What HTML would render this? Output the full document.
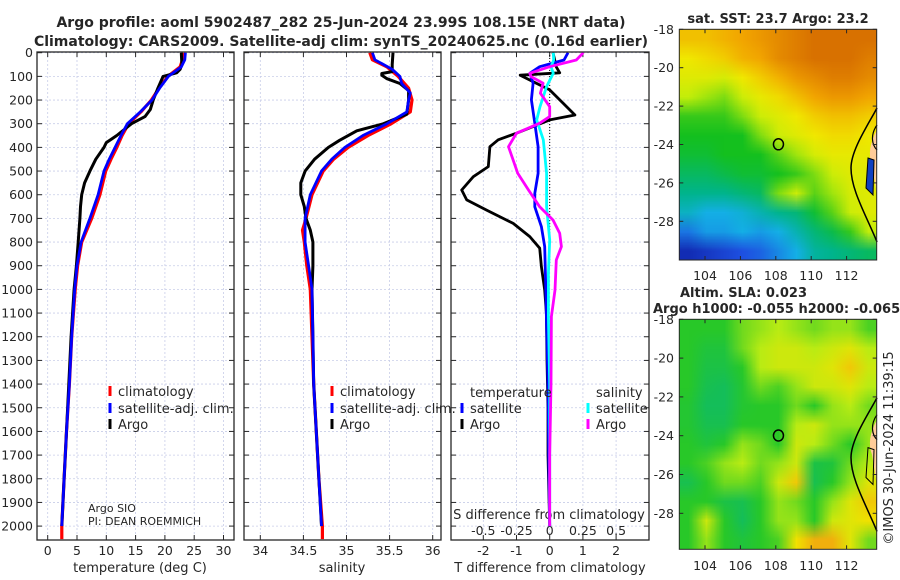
<!DOCTYPE html>
<html><head><meta charset="utf-8">
<style>
html,body{margin:0;padding:0;background:#fff;}
body{width:900px;height:580px;overflow:hidden;font-family:"DejaVu Sans","Liberation Sans",sans-serif;}
svg text{font-family:"DejaVu Sans","Liberation Sans",sans-serif;fill:#262626;}
canvas{position:absolute;image-rendering:auto;}
</style></head>
<body>
<div style="position:relative;width:900px;height:580px;">
<canvas id="sstmap" width="11" height="12" style="left:679px;top:29px;width:198px;height:231px;"></canvas>
<canvas id="slamap" width="11" height="12" style="left:679px;top:319px;width:198px;height:230px;"></canvas>
<svg id="fig" width="900" height="580" style="position:absolute;left:0;top:0;" xmlns="http://www.w3.org/2000/svg"></svg>
</div>
<script>
// ---------- Data ----------
const depthTicks=[0,100,200,300,400,500,600,700,800,900,1000,1100,1200,1300,1400,1500,1600,1700,1800,1900,2000];
const tempTicks=[0,5,10,15,20,25,30];
const salTicks=[34,34.5,35,35.5,36];
const tdiffTicks=[-2,-1,0,1,2];
const sdiffTicks=[-0.5,-0.25,0,0.25,0.5];
const sdiffLabels=["-0.5","-0.25","0","0.25","0.5"];

const climTDepth=[0,30,60,100,150,200,250,300,350,400,450,500,600,700,800,900,1000,1200,1400,1600,1800,2000,2055];
const climTVal=[23.1,23.0,22.6,20.5,19.0,17.7,15.9,13.8,12.7,11.8,10.8,9.9,8.9,7.5,5.8,5.1,4.7,4.1,3.7,3.2,2.8,2.4,2.4];
const satTDepth=[0,30,60,100,150,200,250,300,350,400,450,500,600,700,800,900,1000,1200,1400,1600,1800,2000];
const satTVal=[23.5,23.4,22.8,20.6,19.1,17.8,15.8,13.6,12.5,11.5,10.5,9.6,8.6,7.2,5.7,5.0,4.6,4.1,3.7,3.2,2.8,2.4];
const argoTDepth=[0,50,70,85,100,150,200,240,270,300,350,380,400,450,500,550,600,650,700,800,900,1000,1200,1400,1600,1800,2000];
const argoTVal=[22.8,22.9,22.6,22.0,19.7,18.8,18.0,17.5,16.6,14.3,11.8,10.0,9.6,8.2,7.2,6.3,5.8,5.6,5.5,5.2,4.9,4.5,4.0,3.6,3.2,2.8,2.4];

const climSDepth=[0,30,60,100,150,200,250,300,350,400,450,500,600,700,750,800,900,1000,1200,1400,1600,1800,2000,2055];
const climSVal=[35.27,35.30,35.47,35.60,35.72,35.76,35.74,35.52,35.25,35.02,34.85,34.73,34.60,34.53,34.49,34.51,34.54,34.58,34.60,34.62,34.65,34.68,34.72,34.72];
const satSDepth=[0,30,70,100,130,170,200,250,300,350,400,450,500,600,700,800,900,1000,1200,1400,1600,1800,2000];
const satSVal=[35.30,35.33,35.53,35.62,35.64,35.74,35.72,35.70,35.47,35.19,34.98,34.83,34.71,34.58,34.52,34.52,34.56,34.60,34.61,34.62,34.65,34.68,34.71];
const argoSDepth=[0,50,80,88,95,110,130,160,200,260,300,330,370,400,450,500,550,600,650,700,750,800,900,1000,1200,1400,1600,1800,2000];
const argoSVal=[35.54,35.53,35.53,35.41,35.41,35.47,35.62,35.72,35.72,35.70,35.43,35.12,34.92,34.79,34.63,34.52,34.47,34.47,34.51,34.53,34.58,34.61,34.61,34.60,34.61,34.62,34.65,34.68,34.71];

const argoTdDepth=[0,60,85,95,113,157,214,263,284,340,368,397,481,524,580,622,665,721,777,826,904,1003,1101,1300,1500,1700,2000];
const argoTdVal=[0.1,0.2,0.3,-0.89,-0.64,0,0.41,0.76,0,-1.0,-1.55,-1.8,-1.85,-2.3,-2.65,-2.5,-1.9,-1.1,-0.6,-0.3,-0.25,-0.15,-0.1,-0.08,-0.05,-0.05,0];
const satTdDepth=[0,31,59,87,129,199,298,397,510,594,651,735,819,932,1115,1400,1700,2000];
const satTdVal=[0.55,0.43,-0.3,-0.6,-0.5,-0.55,-0.45,-0.35,-0.35,-0.45,-0.45,-0.25,-0.15,-0.13,-0.1,-0.05,-0.03,0];
const satSdDepth=[0,31,59,87,143,228,284,368,510,651,791,932,1115,1400,1700,2000];
const satSdVal=[0.027,0.03,0.01,0.027,-0.023,-0.073,-0.098,-0.048,-0.023,-0.023,0,-0.01,-0.01,0,0,0];
const argoSdDepth=[0,31,59,87,101,129,171,228,270,298,340,397,510,580,651,707,763,819,876,1003,1115,1400,1700,2000];
const argoSdVal=[0.253,0.2,0,-0.15,-0.14,-0.05,-0.07,0,0,-0.075,-0.25,-0.31,-0.24,-0.16,-0.075,0.025,0.075,0.088,0.05,0.04,0.013,0.01,0,0];

const mapLonTicks=[104,106,108,110,112];
const mapLatTicks=[-18,-20,-22,-24,-26,-28];
const sstGrid=[
[24.3,24.3,24.4,24.5,24.6,24.7,24.8,24.9,24.9,24.9,24.9],
[24.0,24.1,24.2,24.4,24.5,24.7,24.8,24.9,24.9,24.9,24.8],
[23.8,23.8,23.7,24.0,24.2,24.4,24.6,24.7,24.8,24.8,24.7],
[23.5,23.4,23.3,23.6,23.9,24.1,24.3,24.5,24.6,24.6,24.5],
[23.1,23.1,23.1,23.3,23.6,23.8,24.0,24.2,24.3,24.3,24.2],
[23.0,23.0,23.0,23.0,23.3,23.6,23.8,24.0,24.1,24.1,24.0],
[22.9,22.9,23.0,23.0,23.0,23.2,23.4,23.7,23.9,23.9,23.9],
[22.7,22.7,22.8,22.9,22.9,23.0,23.1,23.3,23.6,23.8,23.8],
[22.5,22.5,22.5,22.6,22.7,23.3,23.6,23.2,23.4,23.7,23.8],
[22.2,22.0,22.0,22.1,22.3,22.5,22.6,22.9,23.2,23.6,23.8],
[21.7,21.9,21.9,22.0,21.9,22.0,22.3,22.6,22.8,23.1,23.5],
[21.2,21.3,21.4,21.5,21.6,21.8,22.0,22.4,22.5,22.6,22.7]];
const slaGrid=[
[0,0,0,0.2,0.3,0.4,0.3,0.2,0.3,0.3,0.1],
[0,-0.2,-0.2,0.2,0.4,0.5,0.5,0.4,0.5,0.6,0.4],
[0,-0.3,-0.3,0,0.4,0.5,0.5,0.5,0.6,0.8,0.5],
[0,-0.4,-0.5,-0.1,0.2,0.1,0.3,0.5,0.5,0.6,0.4],
[-0.1,-0.5,-0.5,-0.1,0,0,0.2,0,0.3,0.4,0.2],
[-0.1,-0.4,-0.4,0,0,0,0.4,0.5,0.3,0.3,0.3],
[0,-0.2,0,0.3,0.2,0,0.5,0.4,0.2,0,0.3],
[0,0.1,0.3,0.4,0.2,0.3,0.5,-0.3,-0.2,0.2,0.4],
[-0.4,0,0.2,0.2,0.1,0.5,0.8,-0.4,0,0.3,0.6],
[0,0,-0.3,-0.4,0,0.3,0.2,0,0.3,0.6,0.8],
[0,0.5,0,-0.5,0,0.3,0.3,0,0.5,0.6,0.7],
[0,0.3,0,-0.2,0,0.1,0.7,0.9,0.9,0.6,0.2]];
const floatLon=108.15, floatLat=-23.99;

// ---------- Axes ----------
const NS="http://www.w3.org/2000/svg";
const svg=document.getElementById('fig');
function mk(tag,attrs,parent){const e=document.createElementNS(NS,tag);for(const k in attrs)e.setAttribute(k,attrs[k]);(parent||svg).appendChild(e);return e;}
function txt(s,x,y,attrs,parent){const e=mk('text',Object.assign({x:x,y:y},attrs||{}),parent);e.textContent=s;return e;}
const yD=d=>52.7+0.2367*d;
const xT=t=>47.7+5.86*t;
const xS=s=>260.3+86.2*(s-34);
const xTd=t=>549.7+33.2*t;
const xSd=s=>549.7+132.8*s;
const TOP=52, BOT=540;
const panels=[{x0:37,x1:234},{x0:244,x1:441},{x0:451,x1:649}];

let t1=txt('Argo profile: aoml 5902487_282 25-Jun-2024 23.99S 108.15E (NRT data)',341,27,{'font-size':'14','font-weight':'bold','text-anchor':'middle','fill':'#000'});


let t2=txt('Climatology: CARS2009. Satellite-adj clim: synTS_20240625.nc (0.16d earlier)',341,46,{'font-size':'14','font-weight':'bold','text-anchor':'middle','fill':'#000'});



panels.forEach((p,i)=>{
  const g=mk('g',{});
  
  
  depthTicks.forEach(d=>{
    mk('line',{x1:p.x0,x2:p.x1,y1:yD(d),y2:yD(d),stroke:'#c8cde8','stroke-width':'0.8','stroke-dasharray':'2,2'},g);
    mk('line',{x1:p.x0,x2:p.x0+5,y1:yD(d),y2:yD(d),stroke:'#262626','stroke-width':'1'},g);
    mk('line',{x1:p.x1,x2:p.x1-5,y1:yD(d),y2:yD(d),stroke:'#262626','stroke-width':'1'},g);
  });
});
depthTicks.forEach(d=>{const e=txt(String(d),33,yD(d)+4.5,{'font-size':'12.5','text-anchor':'end'});
  
  });

function vgrid(xs,fn){xs.forEach(v=>{const x=fn(v);
  mk('line',{x1:x,x2:x,y1:TOP,y2:BOT,stroke:'#c8cde8','stroke-width':'0.8','stroke-dasharray':'2,2'});
  mk('line',{x1:x,x2:x,y1:BOT,y2:BOT-5,stroke:'#262626'});mk('line',{x1:x,x2:x,y1:TOP,y2:TOP+5,stroke:'#262626'});});}
vgrid(tempTicks,xT);vgrid(salTicks,xS);vgrid(tdiffTicks,xTd);
tempTicks.forEach(v=>{const e=txt(String(v),xT(v),555,{'font-size':'12.5','text-anchor':'middle'});
  
  });
salTicks.forEach(v=>{const e=txt(String(v),xS(v),555,{'font-size':'12.5','text-anchor':'middle'});
  
  });
tdiffTicks.forEach(v=>{const e=txt(String(v),xTd(v),555,{'font-size':'12.5','text-anchor':'middle'});
  
  });
sdiffTicks.forEach((v,i)=>{const e=txt(sdiffLabels[i],xSd(v),535,{'font-size':'12.5','text-anchor':'middle'});
  
  });
let xa=txt('temperature (deg C)',140,572,{'font-size':'13','text-anchor':'middle'});


xa=txt('salinity',342,572,{'font-size':'13','text-anchor':'middle'});


xa=txt('T difference from climatology',550,572,{'font-size':'13','text-anchor':'middle'});


xa=txt('S difference from climatology',549,519,{'font-size':'13','text-anchor':'middle'});


mk('line',{x1:xTd(0),x2:xTd(0),y1:TOP,y2:yD(900),stroke:'#000','stroke-width':'1','stroke-dasharray':'1,2'});

function line(depths,vals,fn,color,w,name){
  const pts=depths.map((d,i)=>fn(vals[i]).toFixed(1)+','+yD(d).toFixed(1)).join(' ');
  const e=mk('polyline',{points:pts,fill:'none',stroke:color,'stroke-width':w,'stroke-linejoin':'round'});
  
  
}
line(climTDepth,climTVal,xT,'#ff0000',3.2,'temp-climatology-line');
line(argoTDepth,argoTVal,xT,'#000000',3,'temp-argo-line');
line(satTDepth,satTVal,xT,'#0000ff',2.8,'temp-satellite-line');
line(climSDepth,climSVal,xS,'#ff0000',3.2,'salinity-climatology-line');
line(argoSDepth,argoSVal,xS,'#000000',3,'salinity-argo-line');
line(satSDepth,satSVal,xS,'#0000ff',2.8,'salinity-satellite-line');
line(argoTdDepth,argoTdVal,xTd,'#000000',2.8,'tdiff-argo-line');
line(satTdDepth,satTdVal,xTd,'#0000ff',2.8,'tdiff-satellite-line');
line(satSdDepth,satSdVal,xSd,'#00ffff',2.8,'sdiff-satellite-line');
line(argoSdDepth,argoSdVal,xSd,'#ff00ff',2.8,'sdiff-argo-line');

panels.forEach((p,i)=>{const r=mk('rect',{x:p.x0,y:TOP,width:p.x1-p.x0,height:BOT-TOP,fill:'none',stroke:'#262626','stroke-width':'1.3'});
  
  });

function leg(x,y,color,label,name){
  const g=mk('g',{});
  
  
  mk('line',{x1:x,x2:x,y1:y-6,y2:y+4,stroke:color,'stroke-width':'3'},g);
  txt(label,x+8,y+4,{'font-size':'13'},g);
}
leg(110,392,'#ff0000','climatology','legend-temp-climatology');
leg(110,409,'#0000ff','satellite-adj. clim.','legend-temp-satellite');
leg(110,425,'#000000','Argo','legend-temp-argo');
leg(332,392,'#ff0000','climatology','legend-sal-climatology');
leg(332,409,'#0000ff','satellite-adj. clim.','legend-sal-satellite');
leg(332,425,'#000000','Argo','legend-sal-argo');
let lt=txt('temperature',470,397,{'font-size':'13'});


lt=txt('salinity',596,397,{'font-size':'13'});


leg(462,409,'#0000ff','satellite','legend-tdiff-satellite');
leg(462,425,'#000000','Argo','legend-tdiff-argo');
leg(588,409,'#00ffff','satellite','legend-sdiff-satellite');
leg(588,425,'#ff00ff','Argo','legend-sdiff-argo');
lt=txt('Argo SIO',88,512,{'font-size':'11'});


lt=txt('PI: DEAN ROEMMICH',88,525,{'font-size':'11'});



// ---------- Maps ----------
function lerpStops(stops,v){
  if(v<=stops[0][0])return stops[0][1];
  for(let i=1;i<stops.length;i++){if(v<=stops[i][0]){const a=stops[i-1],b=stops[i];const f=(v-a[0])/(b[0]-a[0]);
    return a[1].map((c,k)=>Math.round(c+(b[1][k]-c)*f));}}
  return stops[stops.length-1][1];
}
const sstStops=[[21.0,[10,20,150]],[21.5,[30,80,225]],[22.0,[20,175,230]],[22.5,[0,180,140]],[23.0,[20,192,30]],[23.5,[195,238,10]],[24.0,[240,232,0]],[24.5,[242,165,0]],[25.0,[210,100,0]]];
const slaStops=[[-1,[0,175,140]],[-0.5,[20,190,90]],[0,[40,200,40]],[0.4,[185,236,20]],[0.7,[242,225,0]],[1,[240,150,20]]];
function paint(id,grid,stops){
  const c=document.getElementById(id),ctx=c.getContext('2d');const img=ctx.createImageData(11,12);
  grid.forEach((row,r)=>row.forEach((v,cI)=>{const col=lerpStops(stops,v);const o=(r*11+cI)*4;
    img.data[o]=col[0];img.data[o+1]=col[1];img.data[o+2]=col[2];img.data[o+3]=255;}));
  ctx.putImageData(img,0,0);
}
paint('sstmap',sstGrid,sstStops);
paint('slamap',slaGrid,slaStops);

const maps=[{y0:29.3,y1:260,dy:19.2,lblY:280,name:'sst'},{y0:319.3,y1:549.3,dy:19.4,lblY:570,name:'sla'}];
const MX0=679.3, MX1=876.7;
const lonX=l=>705+(l-104)*17.7;
maps.forEach(m=>{
  const latY=l=>m.y0+(-18-l)*m.dy;
  const g=mk('g',{});
  
  
  const s=(m.y1-m.y0)/230.7;
  const yy=v=>m.y0+(v-29.3)*s;
  mk('path',{d:`M877,${yy(130)} Q866,${yy(150)} 872,${yy(165)} L877,${yy(195)} Z`,fill:'#ffcc99'},g);
  mk('path',{d:`M868,${yy(158)} L874,${yy(160)} L873,${yy(195)} L866,${yy(188)} Z`,fill:m.name==='sst'?'#1040c0':'none',stroke:'#000','stroke-width':'1'},g);
  mk('path',{d:`M877,${yy(108)} C868,${yy(125)} 851,${yy(150)} 851,${yy(168)} C851,${yy(190)} 866,${yy(215)} 877,${yy(242)}`,fill:'none',stroke:'#000','stroke-width':'1.5'},g);
  mk('path',{d:`M877,${yy(125)} C870,${yy(135)} 872,${yy(145)} 877,${yy(150)}`,fill:'none',stroke:'#000','stroke-width':'1.2'},g);
  mk('rect',{x:MX0,y:m.y0,width:MX1-MX0,height:m.y1-m.y0,fill:'none',stroke:'#262626','stroke-width':'1'},g);
  mapLatTicks.forEach(l=>{const y=latY(l);
    mk('line',{x1:MX0,x2:MX0+4,y1:y,y2:y,stroke:'#262626'},g);mk('line',{x1:MX1,x2:MX1-4,y1:y,y2:y,stroke:'#262626'},g);
    const e=txt(String(l),674,y+4.5,{'font-size':'12.5','text-anchor':'end'},g);
    
    });
  mapLonTicks.forEach(l=>{const x=lonX(l);
    mk('line',{x1:x,x2:x,y1:m.y1,y2:m.y1-4,stroke:'#262626'},g);mk('line',{x1:x,x2:x,y1:m.y0,y2:m.y0+4,stroke:'#262626'},g);
    const e=txt(String(l),x,m.lblY,{'font-size':'12.5','text-anchor':'middle'},g);
    
    });
  const c=mk('ellipse',{cx:lonX(floatLon),cy:latY(floatLat),rx:5,ry:5.5,fill:'none',stroke:'#000','stroke-width':'1.5'},g);
  
  
});
let mt=txt('sat. SST: 23.7 Argo: 23.2',778,23,{'font-size':'13','font-weight':'bold','text-anchor':'middle','fill':'#000'});


mt=txt('Altim. SLA: 0.023',680,297,{'font-size':'13','font-weight':'bold','fill':'#000'});


mt=txt('Argo h1000: -0.055 h2000: -0.065',653,313,{'font-size':'13','font-weight':'bold','fill':'#000'});


mt=txt('©IMOS 30-Jun-2024 11:39:15',0,0,{'font-size':'13','text-anchor':'middle','transform':'translate(893,448) rotate(-90)'});


</script>
</body></html>
